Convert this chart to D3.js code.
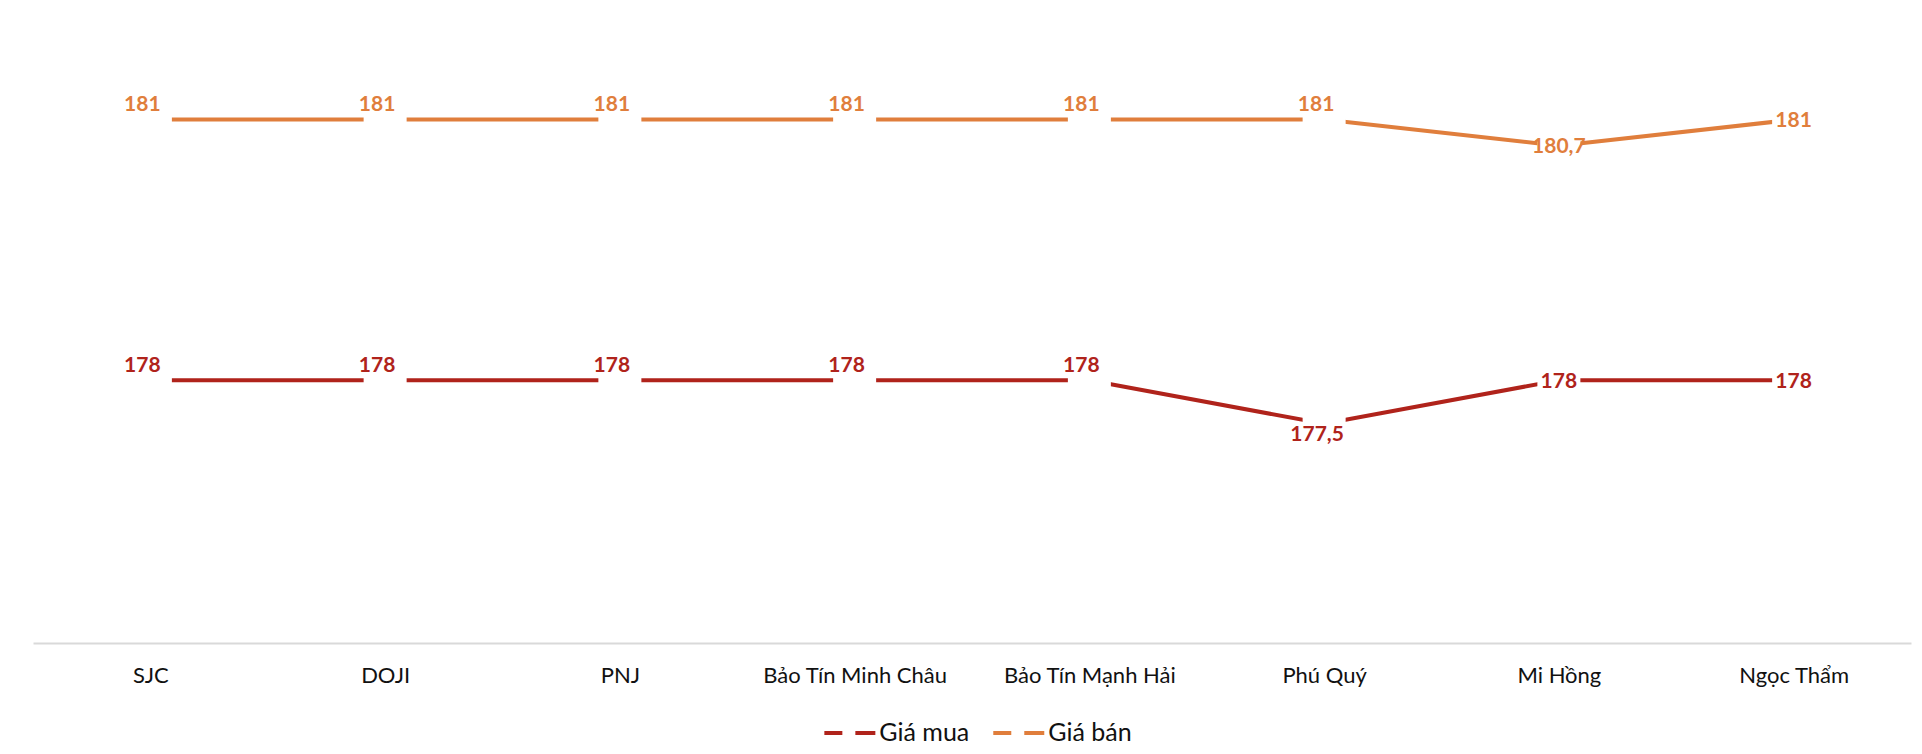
<!DOCTYPE html>
<html>
<head>
<meta charset="utf-8">
<script src="https://cdn.jsdelivr.net/npm/d3@7"></script>
<style>
    body { margin: 0; background: #fff; }
    #chart { width: 1922px; height: 754px; }
    text { font-family: Lato, "Liberation Sans Narrow", "Noto Sans", sans-serif; }
</style>
</head>
<body>
<div id="chart"></div>
<script>

// data
const categories = ["SJC", "DOJI", "PNJ", "Bảo Tín Minh Châu", "Bảo Tín Mạnh Hải", "Phú Quý", "Mi Hồng", "Ngọc Thẩm"];
const buyPrices = [178, 178, 178, 178, 178, 177.5, 178, 178];
const sellPrices = [181, 181, 181, 181, 181, 181, 180.7, 181];
const seriesNames = ["Giá mua", "Giá bán"];

// where each data label sits relative to its point
const buyLabelPos = ["above", "above", "above", "above", "above", "below", "center", "center"];
const sellLabelPos = ["above", "above", "above", "above", "above", "above", "center", "center"];


class LineVis {

    constructor(parentElement) {
        this.parentElement = parentElement;
        this.colors = ["#B0231B", "#E07E3C"];
        this.initVis();
    }

    initVis() {
        let vis = this;

        vis.width = 1922;
        vis.height = 754;
        vis.plot = {left: 33, right: 1911, top: 32.7, bottom: 641};

        vis.svg = d3.select("#" + vis.parentElement).append("svg")
            .attr("width", vis.width)
            .attr("height", vis.height);

        vis.x = d3.scalePoint()
            .domain(categories)
            .range([vis.plot.left, vis.plot.right])
            .padding(0.5);

        vis.y = d3.scaleLinear()
            .domain([175, 182])
            .range([vis.plot.bottom, vis.plot.top]);

        // category axis
        vis.xAxis = d3.axisBottom(vis.x)
            .tickSize(0)
            .tickSizeOuter(0)
            .tickPadding(24);

        let axis = vis.svg.append("g")
            .attr("class", "axis")
            .attr("transform", `translate(0, ${vis.plot.bottom + 2})`)
            .call(vis.xAxis);

        axis.select(".domain")
            .attr("stroke", "#D9D9D9")
            .attr("stroke-width", 2);

        axis.selectAll(".tick text")
            .attr("fill", "#111")
            .style("font-size", "22px");

        vis.series = [
            {name: seriesNames[0], values: buyPrices, pos: buyLabelPos, color: vis.colors[0]},
            {name: seriesNames[1], values: sellPrices, pos: sellLabelPos, color: vis.colors[1]}
        ];

        vis.updateVis();
    }

    updateVis() {
        let vis = this;

        let line = d3.line()
            .x((d, i) => vis.x(categories[i]))
            .y(d => vis.y(d));

        let markerSize = 43;

        vis.series.forEach(s => {
            let g = vis.svg.append("g").attr("class", "series");

            g.append("path")
                .datum(s.values)
                .attr("fill", "none")
                .attr("stroke", s.color)
                .attr("stroke-width", 4)
                .attr("d", line);

            // white markers break the line at every point
            g.selectAll("rect")
                .data(s.values)
                .enter()
                .append("rect")
                .attr("x", (d, i) => vis.x(categories[i]) - markerSize / 2)
                .attr("y", d => vis.y(d) - markerSize / 2)
                .attr("width", markerSize)
                .attr("height", markerSize)
                .attr("fill", "#fff");
        });

        // data labels
        let offsets = {above: [-8, -16], below: [-7, 10], center: [0, 0]};

        vis.series.forEach(s => {
            vis.svg.append("g")
                .attr("class", "labels")
                .selectAll("text")
                .data(s.values)
                .enter()
                .append("text")
                .attr("x", (d, i) => vis.x(categories[i]) + offsets[s.pos[i]][0])
                .attr("y", (d, i) => vis.y(d) + offsets[s.pos[i]][1])
                .attr("dy", "0.36em")
                .attr("text-anchor", "middle")
                .attr("fill", s.color)
                .style("font-size", "21px")
                .style("font-weight", "bold")
                .text(d => String(d).replace(".", ","));
        });

        // legend
        let legend = vis.svg.append("g").attr("class", "legend");
        let legendY = 733;
        let cursor = 0;
        let items = [];

        vis.series.forEach(s => {
            let item = legend.append("g");
            item.append("line")
                .attr("x1", 0).attr("x2", 18)
                .attr("y1", 0).attr("y2", 0)
                .attr("stroke", s.color)
                .attr("stroke-width", 4);
            item.append("line")
                .attr("x1", 31).attr("x2", 51)
                .attr("y1", 0).attr("y2", 0)
                .attr("stroke", s.color)
                .attr("stroke-width", 4);
            let t = item.append("text")
                .attr("x", 55)
                .attr("y", 8)
                .attr("fill", "#111")
                .style("font-size", "25px")
                .text(s.name);
            let w = 55 + t.node().getComputedTextLength();
            items.push({item: item, start: cursor});
            cursor += w + 24;
        });

        let total = cursor - 24;
        let start = 978 - total / 2;
        items.forEach(d => d.item.attr("transform", `translate(${start + d.start}, ${legendY})`));
    }
}

new LineVis("chart");

</script>
</body>
</html>
